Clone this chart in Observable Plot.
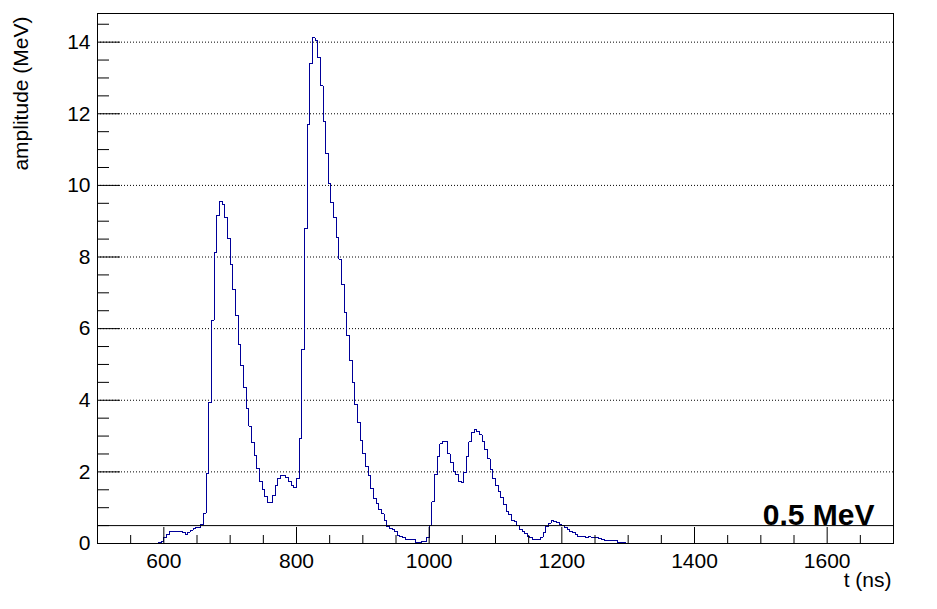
<!DOCTYPE html>
<html>
<head>
<meta charset="utf-8">
<script src="https://cdn.jsdelivr.net/npm/d3@7"></script>
<script src="https://cdn.jsdelivr.net/npm/@observablehq/plot@0.6"></script>
<style>
  html, body { margin: 0; padding: 0; background: #fff; }
  #chart svg { display: block; }
</style>
</head>
<body>
<div id="chart"></div>
<script>
// Histogram: bin lower edges start at binStart (ns), fixed bin width (ns)
const binStart = 588;
const binWidth = 4;
// amplitude (MeV) per bin
const amplitude = [
  0.00, 0.02, 0.065, 0.17, 0.26, 0.34, 0.34, 0.34, 0.34, 0.34,
  0.32, 0.26, 0.32, 0.37, 0.43, 0.46, 0.46, 0.54, 0.85, 1.96,
  3.95, 6.24, 8.14, 9.16, 9.56, 9.48, 9.09, 8.53, 7.80, 7.08,
  6.38, 5.57, 4.96, 4.37, 3.78, 3.28, 2.83, 2.47, 2.10, 1.74,
  1.52, 1.30, 1.15, 1.15, 1.35, 1.63, 1.82, 1.91, 1.91, 1.85,
  1.74, 1.61, 1.55, 1.81, 2.93, 5.43, 8.79, 11.69, 13.40, 14.12,
  14.04, 13.57, 12.78, 11.78, 10.88, 10.04, 9.52, 9.10, 8.54, 7.94,
  7.23, 6.46, 5.81, 5.10, 4.49, 3.89, 3.37, 2.88, 2.50, 2.15,
  1.89, 1.53, 1.27, 1.13, 0.96, 0.83, 0.63, 0.47, 0.42, 0.38,
  0.33, 0.23, 0.19, 0.17, 0.11, 0.11, 0.10, 0.10, 0.03, 0.03,
  0.05, 0.05, 0.16, 0.50, 1.16, 1.93, 2.43, 2.78, 2.86, 2.84,
  2.50, 2.27, 2.02, 1.93, 1.74, 1.70, 1.99, 2.43, 2.84, 3.09,
  3.17, 3.12, 3.03, 2.84, 2.63, 2.36, 2.07, 1.81, 1.61, 1.44,
  1.28, 1.09, 0.88, 0.80, 0.64, 0.62, 0.49, 0.39, 0.34, 0.27,
  0.20, 0.16, 0.12, 0.12, 0.12, 0.18, 0.31, 0.47, 0.57, 0.63,
  0.62, 0.59, 0.53, 0.49, 0.46, 0.40, 0.34, 0.30, 0.25, 0.20,
  0.20, 0.20, 0.17, 0.19, 0.17, 0.17, 0.16, 0.14, 0.11, 0.07,
  0.07, 0.07, 0.07, 0.07, 0.04, 0.04, 0.02, 0.00
];
const threshold = 0.5;           // MeV
const thresholdLabel = "0.5 MeV";
const xDomain = [500, 1700];
const yDomain = [0, 14.8];
const xMajorTicks = [600, 800, 1000, 1200, 1400, 1600];
const xMinorTicks = [550, 650, 700, 750, 850, 900, 950, 1050, 1100, 1150, 1250, 1300, 1350, 1450, 1500, 1550, 1650];
const yMajorTicks = [0, 2, 4, 6, 8, 10, 12, 14];
const yMinorTicks = [0.5, 1, 1.5, 2.5, 3, 3.5, 4.5, 5, 5.5, 6.5, 7, 7.5, 8.5, 9, 9.5, 10.5, 11, 11.5, 12.5, 13, 13.5, 14.5];
const gridTicks = [2, 4, 6, 8, 10, 12, 14];
const xTitle = "t (ns)";
const yTitle = "amplitude (MeV)";

const hist = [{t: xDomain[0], v: 0}];
amplitude.forEach((v, i) => hist.push({t: binStart + i * binWidth, v}));
hist.push({t: binStart + amplitude.length * binWidth, v: 0});
hist.push({t: xDomain[1], v: 0});

const W = 937, H = 609;
const mL = 97, mR = 44, mT = 13, mB = 66;
const fw = W - mL - mR, fh = H - mT - mB;

const chart = Plot.plot({
  width: W, height: H,
  marginLeft: mL, marginRight: mR, marginTop: mT, marginBottom: mB,
  x: {domain: xDomain},
  y: {domain: yDomain},
  style: {fontFamily: "'Liberation Sans', Arial, Helvetica, sans-serif", fontSize: "21px", color: "black", background: "white"},
  marks: [
    Plot.ruleY(gridTicks, {stroke: "black", strokeDasharray: "1,2", strokeWidth: 1}),
    Plot.line(hist, {x: "t", y: "v", curve: "step-after", stroke: "#000099", strokeWidth: 1, shapeRendering: "crispEdges"}),
    Plot.ruleY([threshold], {stroke: "black", strokeWidth: 1}),
    Plot.frame({stroke: "black", strokeWidth: 1}),
    Plot.tickX(xMajorTicks, {x: d => d, stroke: "black", insetTop: fh - 16}),
    Plot.tickX(xMinorTicks, {x: d => d, stroke: "black", insetTop: fh - 8}),
    Plot.tickY(yMajorTicks, {y: d => d, stroke: "black", insetRight: fw - 23}),
    Plot.tickY(yMinorTicks, {y: d => d, stroke: "black", insetRight: fw - 12}),
    Plot.axisX({ticks: xMajorTicks, tickSize: 0, tickPadding: 10, tickFormat: d3.format("d"), label: null, fill: "black", fontSize: 21}),
    Plot.axisY({ticks: yMajorTicks, tickSize: 0, tickPadding: 7, tickFormat: d3.format("d"), label: null, fill: "black", fontSize: 21}),
    Plot.text([xTitle], {text: d => d, frameAnchor: "bottom-right", textAnchor: "end", lineAnchor: "bottom", dx: -2, dy: 43, fill: "black", fontSize: 21}),
    Plot.text([yTitle], {text: d => d, frameAnchor: "top-left", rotate: -90, textAnchor: "end", lineAnchor: "bottom", dx: -70, dy: 3, fill: "black", fontSize: 21}),
    Plot.text([threshold], {y: d => d, text: () => thresholdLabel, frameAnchor: "right", textAnchor: "end", lineAnchor: "bottom", dx: -19, dy: -1, fontWeight: "bold", fontSize: 30, fill: "black"})
  ]
});
document.getElementById("chart").appendChild(chart);
</script>
</body>
</html>
